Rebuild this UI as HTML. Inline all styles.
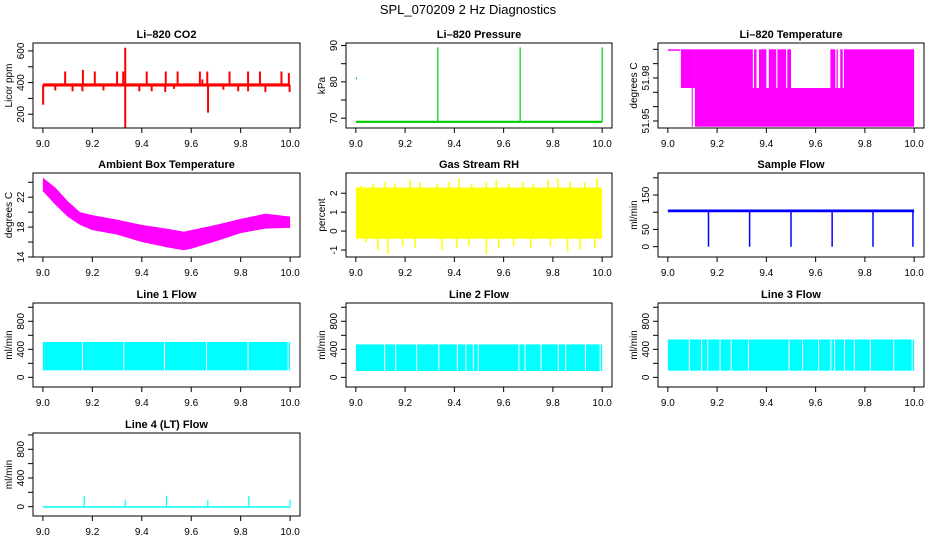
<!DOCTYPE html>
<html><head><meta charset="utf-8"><style>
html,body{margin:0;padding:0;background:#fff}
svg{display:block;font-family:"Liberation Sans",sans-serif}
</style></head><body>
<svg id="c" width="936" height="540" viewBox="0 0 936 540" xmlns="http://www.w3.org/2000/svg">
<text x="468" y="14" text-anchor="middle" font-size="13">SPL_070209  2 Hz Diagnostics</text>
</svg>
<script>
// ---- data ----
const co2SpikeT=[9.001,9.09,9.162,9.21,9.30,9.325,9.333,9.333,9.42,9.497,9.545,9.635,9.645,9.665,9.668,9.755,9.83,9.878,9.965,9.995,9.05,9.12,9.16,9.245,9.39,9.44,9.495,9.53,9.73,9.79,9.83,9.90,9.998];
const co2SpikeV=[260,470,480,470,470,470,620,115,470,470,470,470,420,470,210,470,470,470,470,460,350,345,345,350,345,345,340,360,355,345,345,340,340];
const co2Base=[375,395];
const presSpikeT=[9.333,9.667,10.0,9.0];
const presSpikeV=[89.5,89.5,89.5,81];
const presBase=[68.7,69.3];
const tempBandT0=[9.0,9.053,9.097,9.11,9.11,9.35,9.37,9.41,9.445,9.485,9.66,9.685,9.70,9.715];
const tempBandT1=[9.05,9.11,9.10,10.0,9.345,9.36,9.40,9.44,9.48,9.50,9.68,9.69,9.71,10.0];
const tempBandLo=[51.999,51.973,51.946,51.946,51.973,51.973,51.973,51.973,51.973,51.973,51.973,51.973,51.973,51.973];
const tempBandHi=[52.0,52.0,51.973,51.973,52.0,52.0,52.0,52.0,52.0,52.0,52.0,52.0,52.0,52.0];
const ambT=[9.0,9.05,9.1,9.15,9.2,9.3,9.4,9.5,9.57,9.6,9.7,9.8,9.9,10.0];
const ambHi=[24.6,23.3,21.5,20.0,19.6,19.0,18.3,17.8,17.4,17.6,18.3,19.1,19.8,19.4];
const ambLo=[22.8,21.0,19.4,18.3,17.6,17.0,16.0,15.3,14.9,15.1,16.1,17.2,17.8,17.9];
const rhBase=[-0.4,2.3];
const rhSpikeT=[9.02,9.07,9.12,9.16,9.22,9.26,9.33,9.38,9.42,9.47,9.53,9.57,9.62,9.68,9.72,9.78,9.82,9.87,9.93,9.98,9.04,9.09,9.13,9.19,9.24,9.35,9.41,9.46,9.53,9.58,9.64,9.71,9.79,9.86,9.91,9.97];
const rhSpikeV=[2.4,2.5,2.6,2.5,2.7,2.6,2.5,2.6,2.8,2.5,2.6,2.7,2.5,2.6,2.5,2.7,2.8,2.6,2.6,2.8,-0.6,-1.0,-1.2,-0.8,-0.9,-1.0,-0.9,-0.8,-1.2,-0.9,-0.8,-0.9,-0.8,-1.1,-1.0,-0.9];
const sfBase=[100,108];
const sfDipT=[9.165,9.332,9.5,9.667,9.833,9.995];
const sfDipV=[0,0,0,0,0,0];
const l1Base=[100,505];const l1Gap=[9.158,9.325,9.49,9.66,9.828,9.99];
const l2Base=[90,470];const l2Gap=[9.115,9.16,9.245,9.335,9.41,9.445,9.475,9.495,9.66,9.685,9.75,9.82,9.85,9.93,9.99];
const l3Base=[95,540];const l3Gap=[9.085,9.135,9.16,9.21,9.255,9.325,9.49,9.545,9.61,9.66,9.675,9.715,9.755,9.82,9.915,9.99];
const l4Base=[-6,6];const l4SpikeT=[9.167,9.333,9.5,9.667,9.833,10.0];const l4SpikeV=[150,90,150,90,150,100];

const svg=document.getElementById('c');
const NS='http://www.w3.org/2000/svg';
function mk(tag,attrs,parent){const e=document.createElementNS(NS,tag);for(const k in attrs)e.setAttribute(k,attrs[k]);(parent||svg).appendChild(e);return e;}
const cols=[[33,300],[346,612],[658,924]];
const rows=[[43,128],[173,257],[303,387],[433,516]];
function panel(name,title,ylab,col,row,ylim,ticks,labels){
  const g=mk('g',{});
  
  
  const [x0,x1]=cols[col],[y0,y1]=rows[row];
  const w=x1-x0;const pad=w/1.08*0.04;
  const X=t=>x0+pad+(t-9)*(w-2*pad);
  const Y=v=>y1-(v-ylim[0])/(ylim[1]-ylim[0])*(y1-y0);
  const plot=mk('g',{},g);
  
  
  const frame=mk('rect',{x:x0,y:y0,width:w,height:y1-y0,fill:'none',stroke:'#000','stroke-width':1},g);
  
  
  const tt=mk('text',{x:(x0+x1)/2,y:y0-5,'text-anchor':'middle','font-size':11,'font-weight':'bold'},g);
  tt.textContent=title;
  
  
  const yl=mk('text',{transform:`translate(${x0-21},${(y0+y1)/2}) rotate(-90)`,'text-anchor':'middle','font-size':10},g);
  yl.textContent=ylab;
  
  
  for(let i=0;i<=5;i++){const t=9+i*0.2;const px=X(t);
    mk('line',{x1:px,x2:px,y1:y1,y2:y1+5,stroke:'#000'},g);
    const lb=mk('text',{x:px,y:y1+19,'text-anchor':'middle','font-size':10},g);
    lb.textContent=t.toFixed(1);
    
    }
  ticks.forEach(v=>{const py=Y(v);mk('line',{x1:x0-5,x2:x0,y1:py,y2:py,stroke:'#000'},g);});
  labels.forEach(v=>{const py=Y(v);const lb=mk('text',{transform:`translate(${x0-9},${py}) rotate(-90)`,'text-anchor':'middle','font-size':10},g);
    lb.textContent=String(v);
    
    });
  return {g:plot,X,Y};
}
function band(p,t0,t1,lo,hi,col){mk('rect',{x:p.X(t0),y:p.Y(hi),width:Math.max(1,p.X(t1)-p.X(t0)),height:Math.max(1.5,p.Y(lo)-p.Y(hi)),fill:col},p.g);}
function vline(p,t,a,b,col,w){mk('line',{x1:p.X(t),x2:p.X(t),y1:p.Y(a),y2:p.Y(b),stroke:col,'stroke-width':w||1.5},p.g);}

// CO2
let p=panel('co2','Li\u2013820 CO2','Licor ppm',0,0,[113,650],[200,300,400,500,600],[200,400,600]);
band(p,9.0,10.0,co2Base[0],co2Base[1],'#f00');
co2SpikeT.forEach((t,i)=>vline(p,t,385,co2SpikeV[i],'#f00',2));
// Pressure
p=panel('pressure','Li\u2013820 Pressure','kPa',1,0,[67.3,90.7],[70,75,80,85,90],[70,80,90]);
band(p,9.0,10.0,presBase[0],presBase[1],'#0c0');
presSpikeT.forEach((t,i)=>{ if(i<3) vline(p,t,69,presSpikeV[i],'#0c0',1.2); else band(p,t,t+0.003,presSpikeV[i]-0.3,presSpikeV[i]+0.3,'#0c0');});
// Temperature
p=panel('li820-temp','Li\u2013820 Temperature','degrees C',2,0,[51.9451,52.0044],[51.95,51.96,51.97,51.98,51.99,52.0],[51.95,51.98]);
tempBandT0.forEach((t,i)=>band(p,t,tempBandT1[i],tempBandLo[i],tempBandHi[i],'#f0f'));
// Ambient
p=panel('ambient-temp','Ambient Box Temperature','degrees C',0,1,[14,25.24],[14,16,18,20,22,24],[14,18,22]);
let pts=ambT.map((t,i)=>p.X(t)+','+p.Y(ambHi[i])).concat(ambT.slice().reverse().map((t,i)=>p.X(t)+','+p.Y(ambLo[ambT.length-1-i])));
mk('polygon',{points:pts.join(' '),fill:'#f0f'},p.g);
// RH
p=panel('gas-rh','Gas Stream RH','percent',1,1,[-1.37,3.07],[-1,0,1,2],[-1,0,1,2]);
band(p,9.0,10.0,rhBase[0],rhBase[1],'#ff0');
rhSpikeT.forEach((t,i)=>vline(p,t,1,rhSpikeV[i],'#ff0',1.5));
// Sample flow
p=panel('sample-flow','Sample Flow','ml/min',2,1,[-29.9,213.9],[0,50,100,150,200],[0,50,150]);
band(p,9.0,10.0,sfBase[0],sfBase[1],'#00f');
sfDipT.forEach((t,i)=>vline(p,t,104,sfDipV[i],'#00f',1.5));
// Line flows
function flow(name,title,col,row,base,gaps){
  const q=panel(name,title,'ml/min',col,row,[-138,1061],[0,200,400,600,800,1000],[0,400,800]);
  band(q,9.0,10.0,base[0],base[1],'#0ff');
  gaps.forEach(t=>band(q,t,t+0.004,base[0],base[1],'#fff'));
}
flow('line1-flow','Line 1 Flow',0,2,l1Base,l1Gap);
flow('line2-flow','Line 2 Flow',1,2,l2Base,l2Gap);
flow('line3-flow','Line 3 Flow',2,2,l3Base,l3Gap);
p=panel('line4-flow','Line 4 (LT) Flow','ml/min',0,3,[-130,1027],[0,200,400,600,800,1000],[0,400,800]);
band(p,9.0,10.0,l4Base[0],l4Base[1],'#0ff');
l4SpikeT.forEach((t,i)=>vline(p,t,0,l4SpikeV[i],'#0ff',1.2));
</script>
</body></html>
